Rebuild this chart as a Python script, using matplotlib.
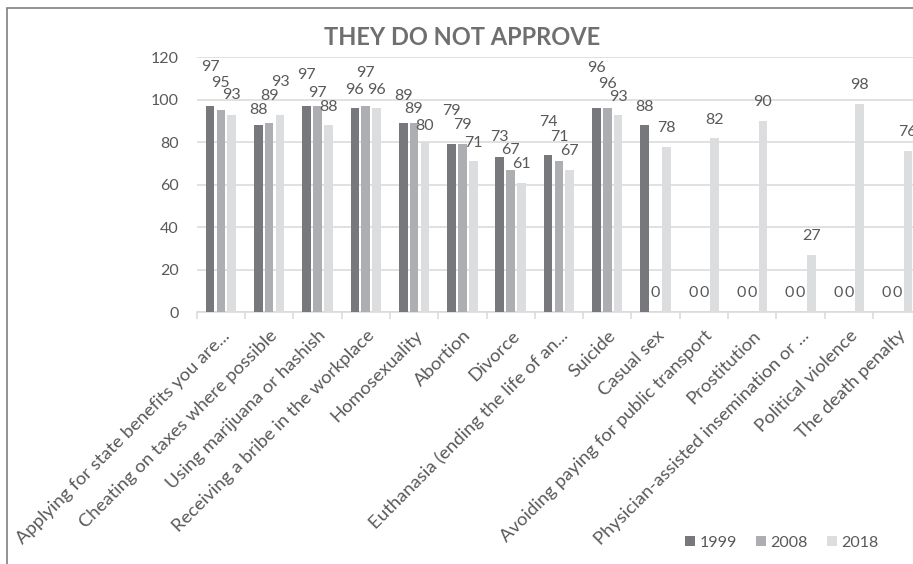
import matplotlib.pyplot as plt
import numpy as np
from matplotlib.patches import Rectangle
from matplotlib.transforms import ScaledTranslation

# categories and series values
categories = ["Applying for state benefits you are...",
              "Cheating on taxes where possible",
              "Using marijuana or hashish",
              "Receiving a bribe in the workplace",
              "Homosexuality",
              "Abortion",
              "Divorce",
              "Euthanasia (ending the life of an...",
              "Suicide",
              "Casual sex",
              "Avoiding paying for public transport",
              "Prostitution",
              "Physician-assisted insemination or ...",
              "Political violence",
              "The death penalty"]
years = ["1999", "2008", "2018"]
values_1999 = [97, 88, 97, 96, 89, 79, 73, 74, 96, 88, 0, 0, 0, 0, 0]
values_2008 = [95, 89, 97, 97, 89, 79, 67, 71, 96, 0, 0, 0, 0, 0, 0]
values_2018 = [93, 93, 88, 96, 80, 71, 61, 67, 93, 78, 82, 90, 27, 98, 76]

# how high each data label sits above its bar (the labels are staggered in the original)
lift_1999 = [18.6, 7.2, 14.6, 8.6, 12.9, 15.7, 9.4, 15.7, 18.8, 8.8, 8.9, 8.9, 8.9, 8.9, 8.9]
lift_2008 = [12.8, 12.9, 6.3, 15.8, 6.5, 9.0, 9.4, 11.6, 11.4, 8.9, 8.9, 8.9, 8.9, 8.9, 8.9]
lift_2018 = [9.3, 15.5, 8.8, 8.6, 7.7, 8.5, 8.8, 9.0, 8.5, 8.6, 8.7, 9.1, 9.0, 9.0, 9.0]

colors = ["#77787b", "#adaeb1", "#dcdddf"]
text_grey = "#595959"
plt.rcParams['font.family'] = ['Lato', 'DejaVu Sans']

fig = plt.figure(figsize=(9.13, 5.64), dpi=100)
# plot area runs a bit past the right edge, like the cropped original
ax = fig.add_axes([196.7 / 913, 1 - 312.3 / 564, 724.5 / 913, 255.0 / 564])

x = np.arange(len(categories))
step = 0.224
width = 0.18
series = [values_1999, values_2008, values_2018]
lifts = [lift_1999, lift_2008, lift_2018]

for i, (vals, lift) in enumerate(zip(series, lifts)):
    xpos = x + (i - 1) * step
    ax.bar(xpos, vals, width=width, color=colors[i], label=years[i], zorder=3)
    for xp, v, l in zip(xpos, vals, lift):
        ax.text(xp, v + l, str(v), ha="center", va="center",
                fontsize=11.5, color=text_grey, zorder=4)

ax.set_xlim(-0.5, len(categories) - 0.5)
ax.set_ylim(0, 120)
ax.set_yticks(range(0, 121, 20))
ax.yaxis.grid(True, color="#d9d9d9", linewidth=1.1, zorder=0)
ax.tick_params(axis="y", length=0, pad=13, labelsize=11.5, labelcolor=text_grey)

for side in ["top", "right", "left"]:
    ax.spines[side].set_visible(False)
ax.spines["bottom"].set_color("#d9d9d9")
ax.spines["bottom"].set_linewidth(1.1)

# tick marks between categories, labels at centers
ax.set_xticks(np.arange(-0.5, len(categories), 1.0), minor=True)
ax.tick_params(axis="x", which="minor", length=5, color="#d9d9d9", width=1.1)
ax.set_xticks(x)
ax.set_xticklabels(categories, rotation=45, ha="right", va="center",
                   rotation_mode="anchor", fontsize=13.3, color=text_grey)
ax.tick_params(axis="x", which="major", length=0, pad=15)
for lab in ax.get_xticklabels():
    lab.set_transform(lab.get_transform() + ScaledTranslation(6 / 100, 0, fig.dpi_scale_trans))

# title
fig.text(462 / 913, 1 - 37.5 / 564, "THEY DO NOT APPROVE", ha="center", va="center",
         fontsize=17, fontweight="bold", color="#6f6f6f")

# legend bottom right
fig.legend(loc="center", bbox_to_anchor=(782 / 913, 1 - 542.7 / 564), ncol=3,
           frameon=False, fontsize=11.5, labelcolor=text_grey,
           handlelength=0.6, handleheight=0.6, handletextpad=0.3, columnspacing=1.2)

# chart frame (right and bottom edges cut off)
fig.add_artist(Rectangle((6.7 / 913, -0.1), 1.2, 1 - 7.5 / 564 + 0.1, fill=False,
                         edgecolor="#7f7f7f", linewidth=1.2, transform=fig.transFigure))

plt.savefig("out.png", dpi=100)
plt.clf()
